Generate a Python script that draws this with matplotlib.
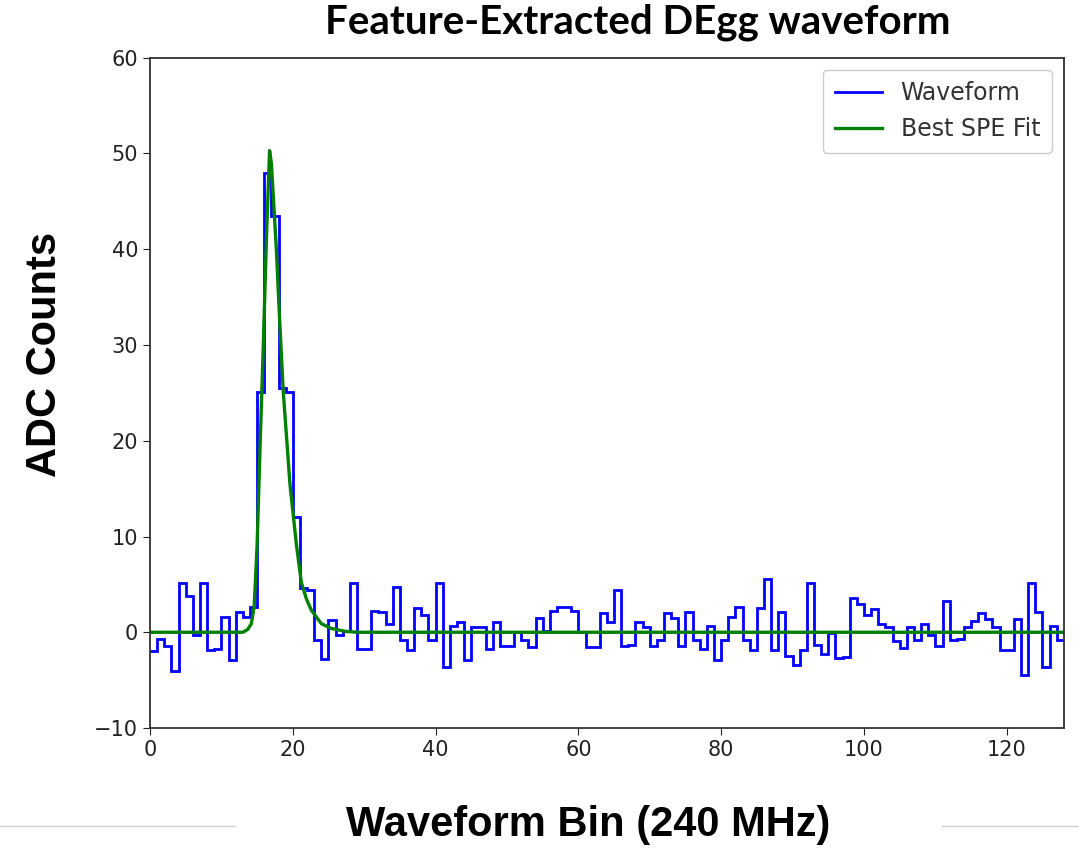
# -*- coding: utf-8 -*-

import numpy as np
import matplotlib
matplotlib.use('Agg')
import matplotlib.pyplot as plt
from matplotlib.lines import Line2D

# waveform, ADC counts per bin (128 bins)
waveform = [
    -2.0, -0.7, -1.4, -4.0, 5.1, 3.8, -0.3, 5.1, -1.9, -1.7,
    1.6, -2.9, 2.1, 1.6, 2.6, 25.1, 48.0, 43.5, 25.5, 25.1,
    12.0, 4.6, 4.4, -0.8, -2.8, 1.3, -0.3, 0.1, 5.1, -1.7,
    -1.7, 2.2, 2.1, 0.9, 4.7, -0.8, -1.9, 2.5, 1.8, -0.8,
    5.1, -3.6, 0.7, 1.1, -2.9, 0.6, 0.6, -1.7, 1.1, -1.4,
    -1.4, 0.0, -0.8, -1.5, 1.5, 0.1, 2.2, 2.6, 2.6, 2.2,
    0.0, -1.5, -1.5, 2.0, 1.1, 4.4, -1.4, -1.3, 1.1, 0.6,
    -1.4, -0.8, 2.0, 1.5, -1.4, 2.1, -0.8, -1.7, 0.7, -2.9,
    -0.8, 1.6, 2.6, -0.8, -1.9, 2.5, 5.6, -1.9, 2.1, -2.5,
    -3.4, -1.9, 5.1, -1.3, -2.3, -0.1, -2.7, -2.6, 3.6, 2.9,
    1.8, 2.4, 0.9, 0.6, -0.9, -1.6, 0.5, -0.8, 0.9, -0.3,
    -1.4, 3.3, -0.8, -0.7, 0.6, 1.2, 2.0, 1.4, 0.5, -1.9,
    -1.9, 1.4, -4.5, 5.1, 2.1, -3.6, 0.7, -0.8,
]
bin_edges = np.arange(len(waveform) + 1)

# best SPE fit
fit_x = [0, 13.0, 13.7, 14.2, 14.6, 15.0, 15.4, 15.85, 16.3, 16.75, 17.0,
         17.7, 18.2, 18.65, 19.6, 20.5, 21.2, 21.9, 22.6, 24.0, 25.4, 27.3,
         29.0, 128]
fit_y = [0, 0, 0.3, 0.9, 2.8, 9.0, 19.0, 29.4, 41.0, 50.3, 49.0,
         40.0, 32.0, 25.3, 15.5, 9.2, 5.2, 3.5, 2.3, 0.9, 0.4, 0.1,
         0, 0]

fig = plt.figure(figsize=(10.79, 8.49), dpi=100)
ax = fig.add_axes([0.139, 0.1425, 0.847, 0.7895])

ax.stairs(waveform, bin_edges, baseline=None, color='blue', lw=2.0, label='Waveform')
ax.plot(fit_x, fit_y, color='green', lw=2.4, label='Best SPE Fit')

ax.set_xlim(0, 128)
ax.set_ylim(-10, 60)
ax.tick_params(labelsize=15, length=5, colors='#222222')
for s in ax.spines.values():
    s.set_linewidth(1.3)
    s.set_color('#333333')

leg = ax.legend(loc='upper right', fontsize=17, framealpha=1, borderpad=0.5,
                handlelength=2.0)
for t in leg.get_texts():
    t.set_color('#333333')

# title / axis labels sit where the slide put them
fig.text(0.591, 0.974, 'Feature-Extracted DEgg waveform', ha='center', va='center',
         fontsize=29, fontweight='bold', family='Lato')
fig.text(0.042, 0.582, 'ADC Counts', rotation=90, ha='center', va='center',
         fontsize=30, fontweight='bold', family='Liberation Sans')
fig.text(0.545, 0.028, 'Waveform Bin (240 MHz)', ha='center', va='center',
         fontsize=30, fontweight='bold', family='Liberation Sans')

# thin grey slide rules either side of the x label
fig.add_artist(Line2D([0, 0.218], [0.027, 0.027], color='#cfcfcf', lw=1))
fig.add_artist(Line2D([0.873, 1.0], [0.027, 0.027], color='#cfcfcf', lw=1))

fig.savefig('out.png', dpi=100)
